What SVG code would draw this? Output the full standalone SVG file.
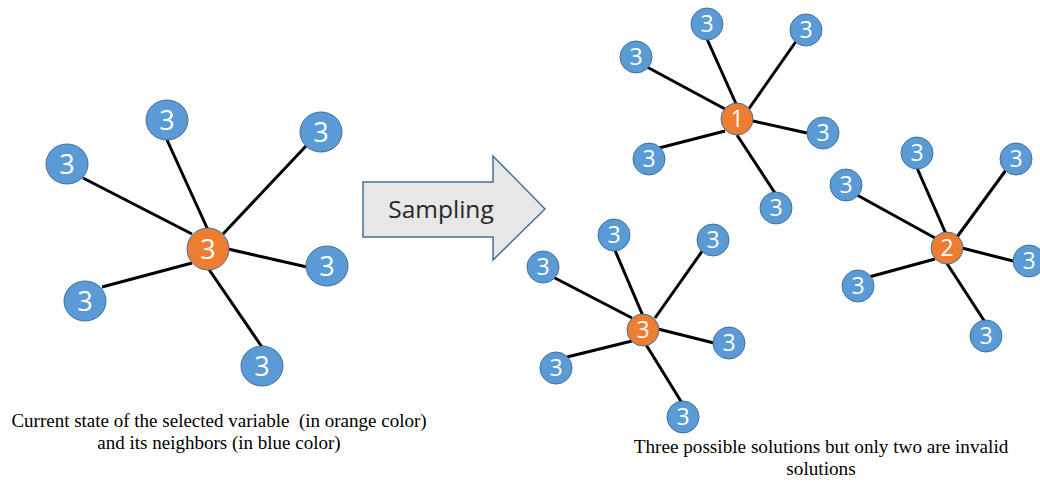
<svg xmlns="http://www.w3.org/2000/svg" width="1040" height="482" viewBox="0 0 1040 482">
<style>
.e{stroke:#000;stroke-width:3;fill:none;stroke-linecap:butt}
.b{fill:#5B9BD5;stroke:#41719C;stroke-width:1}
.o{fill:#ED7D31;stroke:#41719C;stroke-width:1}
.t{fill:#fff;font-family:"Open Sans","Liberation Sans",sans-serif;text-anchor:middle}
.L{font-size:27px}
.S{font-size:23px}
.cap{font-family:"Liberation Serif","Times New Roman",serif;fill:#000;text-anchor:middle}
</style>
<rect width="1040" height="482" fill="#fff"/>
<g id="connectors">
<line class="e" x1="167" y1="140" x2="208" y2="230"/>
<line class="e" x1="306" y1="146" x2="223" y2="234"/>
<line class="e" x1="83" y1="178" x2="192" y2="234"/>
<line class="e" x1="228" y1="249" x2="307" y2="267"/>
<line class="e" x1="102" y1="287" x2="192" y2="263"/>
<line class="e" x1="208" y1="268" x2="262" y2="347"/>

<line class="e" x1="707" y1="39" x2="737" y2="106"/>
<line class="e" x1="797" y1="40" x2="748" y2="110"/>
<line class="e" x1="647" y1="67" x2="725" y2="109"/>
<line class="e" x1="753" y1="121" x2="807" y2="133"/>
<line class="e" x1="659" y1="148" x2="725" y2="131"/>
<line class="e" x1="737" y1="135" x2="775" y2="193"/>

<line class="e" x1="614" y1="248" x2="643" y2="316"/>
<line class="e" x1="703" y1="250" x2="655" y2="318"/>
<line class="e" x1="553" y1="277" x2="632" y2="318"/>
<line class="e" x1="658" y1="329" x2="714" y2="343"/>
<line class="e" x1="567" y1="357" x2="632" y2="341"/>
<line class="e" x1="645" y1="343" x2="682" y2="403"/>

<line class="e" x1="917" y1="168" x2="946" y2="234"/>
<line class="e" x1="1006" y1="170" x2="957" y2="237"/>
<line class="e" x1="857" y1="195" x2="935" y2="238"/>
<line class="e" x1="962" y1="248" x2="1017" y2="262"/>
<line class="e" x1="869" y1="277" x2="935" y2="259"/>
<line class="e" x1="946" y1="262" x2="985" y2="322"/>
</g>

<g id="left-graph">
<g id="l-center"><circle class="o" cx="208" cy="249" r="21"/><text class="t L" x="208" y="259">3</text></g>
<g id="l-top"><ellipse class="b" cx="167" cy="120" rx="21" ry="20"/><text class="t L" x="167" y="130">3</text></g>
<g id="l-topright"><ellipse class="b" cx="321" cy="132" rx="21" ry="20"/><text class="t L" x="321" y="142">3</text></g>
<g id="l-left"><ellipse class="b" cx="67" cy="164" rx="21" ry="20"/><text class="t L" x="67" y="174">3</text></g>
<g id="l-right"><ellipse class="b" cx="327" cy="266" rx="21" ry="20"/><text class="t L" x="327" y="276">3</text></g>
<g id="l-bottomleft"><ellipse class="b" cx="85" cy="301" rx="21" ry="20"/><text class="t L" x="85" y="311">3</text></g>
<g id="l-bottom"><ellipse class="b" cx="262" cy="366" rx="21" ry="20"/><text class="t L" x="262" y="376">3</text></g>
</g>

<g id="arrow">
<path d="M363,182 H493 V156 L545,209 L493,260 V237 H363 Z" fill="#E7E7E7" stroke="#41719C" stroke-width="1.5"/>
<text x="441" y="218" font-family="Open Sans,Liberation Sans,sans-serif" font-size="24.5" fill="#262626" text-anchor="middle">Sampling</text>
</g>

<g id="top-graph">
<g id="a-center"><circle class="o" cx="737" cy="119" r="16"/><text class="t S" x="737" y="127">1</text></g>
<g id="a-top"><circle class="b" cx="707" cy="24" r="16"/><text class="t S" x="707" y="32">3</text></g>
<g id="a-topright"><circle class="b" cx="806" cy="30" r="16"/><text class="t S" x="806" y="38">3</text></g>
<g id="a-left"><circle class="b" cx="636" cy="57" r="16"/><text class="t S" x="636" y="65">3</text></g>
<g id="a-right"><circle class="b" cx="823" cy="133" r="16"/><text class="t S" x="823" y="141">3</text></g>
<g id="a-bottomleft"><circle class="b" cx="649" cy="159" r="16"/><text class="t S" x="649" y="167">3</text></g>
<g id="a-bottom"><circle class="b" cx="776" cy="208" r="16"/><text class="t S" x="776" y="216">3</text></g>
</g>

<g id="bottom-graph">
<g id="b-center"><circle class="o" cx="643" cy="330" r="16"/><text class="t S" x="643" y="338">3</text></g>
<g id="b-top"><circle class="b" cx="614" cy="235" r="16"/><text class="t S" x="614" y="243">3</text></g>
<g id="b-topright"><circle class="b" cx="713" cy="240" r="16"/><text class="t S" x="713" y="248">3</text></g>
<g id="b-left"><circle class="b" cx="543" cy="267" r="16"/><text class="t S" x="543" y="275">3</text></g>
<g id="b-right"><circle class="b" cx="729" cy="343" r="16"/><text class="t S" x="729" y="351">3</text></g>
<g id="b-bottomleft"><circle class="b" cx="556" cy="368" r="16"/><text class="t S" x="556" y="376">3</text></g>
<g id="b-bottom"><circle class="b" cx="683" cy="417" r="16"/><text class="t S" x="683" y="425">3</text></g>
</g>

<g id="right-graph">
<g id="c-center"><circle class="o" cx="947" cy="248" r="16"/><text class="t S" x="947" y="256">2</text></g>
<g id="c-top"><circle class="b" cx="917" cy="153" r="16"/><text class="t S" x="917" y="161">3</text></g>
<g id="c-topright"><circle class="b" cx="1016" cy="159" r="16"/><text class="t S" x="1016" y="167">3</text></g>
<g id="c-left"><circle class="b" cx="846" cy="185" r="16"/><text class="t S" x="846" y="193">3</text></g>
<g id="c-right"><circle class="b" cx="1029" cy="261" r="16"/><text class="t S" x="1029" y="269">3</text></g>
<g id="c-bottomleft"><circle class="b" cx="858" cy="286" r="16"/><text class="t S" x="858" y="294">3</text></g>
<g id="c-bottom"><circle class="b" cx="986" cy="336" r="16"/><text class="t S" x="986" y="344">3</text></g>
</g>

<g id="captions">
<text class="cap" font-size="19" x="219" y="427" xml:space="preserve">Current state of the selected variable  (in orange color)</text>
<text class="cap" font-size="19" x="219" y="449">and its neighbors (in blue color)</text>
<text class="cap" font-size="19.2" x="821" y="453">Three possible solutions but only two are invalid</text>
<text class="cap" font-size="19.2" x="821" y="475">solutions</text>
</g>
</svg>
